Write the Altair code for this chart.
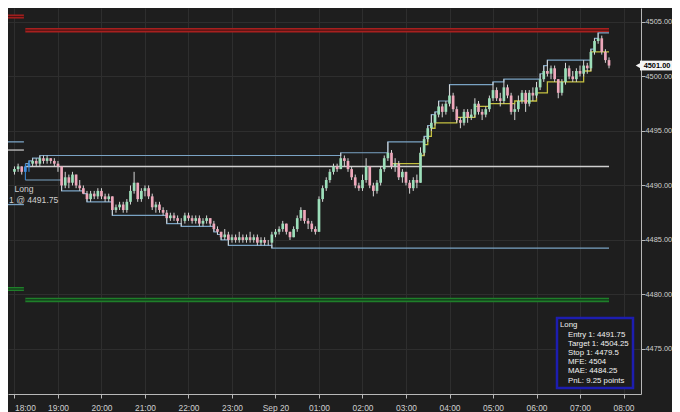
import altair as alt
import pandas as pd

# ---------------- data (5-minute bars, 18:00 Sep 19 -> 07:40 Sep 20) ----------------
first_open = 4491.25
c18 = [4491.50, 4491.75, 4491.25, 4491.75, 4492.00, 4492.25, 4492.00, 4492.50, 4492.25, 4492.50, 4492.25, 4492.00]
h18 = [4491.75, 4492.00, 4491.75, 4492.00, 4492.25, 4492.50, 4492.50, 4492.75, 4492.75, 4492.75, 4492.50, 4492.50]
l18 = [4491.00, 4491.25, 4491.00, 4490.50, 4491.25, 4491.75, 4491.75, 4491.75, 4492.00, 4492.00, 4492.00, 4491.75]
c19 = [4491.75, 4490.00, 4490.75, 4490.25, 4491.00, 4490.00, 4489.75, 4489.25, 4488.75, 4489.25, 4489.00, 4489.50]
h19 = [4492.25, 4491.75, 4491.25, 4491.00, 4491.25, 4491.00, 4490.50, 4490.00, 4489.50, 4489.50, 4489.50, 4489.75]
l19 = [4491.25, 4489.50, 4489.75, 4489.75, 4490.00, 4489.75, 4489.50, 4489.25, 4488.50, 4488.50, 4488.75, 4488.75]
c20 = [4489.00, 4488.75, 4489.00, 4487.75, 4488.00, 4488.25, 4487.75, 4488.50, 4489.50, 4490.25, 4488.75, 4489.50]
h20 = [4489.75, 4489.25, 4489.25, 4489.00, 4488.25, 4488.50, 4488.50, 4488.75, 4490.00, 4491.25, 4490.25, 4489.75]
l20 = [4488.75, 4488.50, 4488.50, 4487.25, 4487.50, 4487.75, 4487.50, 4487.50, 4488.25, 4489.25, 4488.50, 4488.50]
c21 = [4489.75, 4489.00, 4488.00, 4488.25, 4487.75, 4487.50, 4487.00, 4487.25, 4487.00, 4486.75, 4486.75, 4487.25]
h21 = [4490.00, 4490.00, 4489.25, 4488.50, 4488.50, 4488.00, 4487.75, 4487.50, 4487.50, 4487.25, 4487.00, 4487.50]
l21 = [4489.00, 4488.75, 4487.75, 4487.50, 4487.50, 4487.25, 4486.50, 4486.75, 4486.75, 4486.50, 4486.25, 4486.50]
c22 = [4487.00, 4486.75, 4487.00, 4486.50, 4486.75, 4487.00, 4486.50, 4486.00, 4485.75, 4485.25, 4485.50, 4485.00]
h22 = [4487.50, 4487.25, 4487.25, 4487.25, 4487.00, 4487.25, 4487.00, 4486.75, 4486.25, 4485.75, 4486.00, 4485.75]
l22 = [4486.75, 4486.50, 4486.50, 4486.25, 4486.25, 4486.50, 4486.25, 4485.75, 4485.50, 4485.00, 4485.00, 4484.50]
c23 = [4485.25, 4485.00, 4485.25, 4485.00, 4485.25, 4485.00, 4485.25, 4484.75, 4485.00, 4484.75, 4484.75, 4485.50]
h23 = [4485.50, 4485.50, 4485.75, 4485.50, 4485.50, 4485.75, 4485.50, 4485.50, 4485.25, 4485.25, 4485.00, 4485.75]
l23 = [4484.75, 4484.75, 4484.75, 4484.75, 4484.75, 4484.75, 4484.75, 4484.50, 4484.50, 4484.50, 4484.50, 4484.25]
c00 = [4485.75, 4486.00, 4486.50, 4485.75, 4485.25, 4486.00, 4487.00, 4487.75, 4486.75, 4486.50, 4486.00, 4485.75]
h00 = [4486.00, 4486.25, 4486.75, 4486.50, 4485.75, 4486.25, 4487.25, 4488.00, 4487.75, 4487.00, 4486.75, 4486.25]
l00 = [4485.25, 4485.50, 4485.75, 4485.50, 4485.00, 4485.25, 4485.75, 4486.75, 4486.50, 4486.00, 4485.75, 4485.50]
c01 = [4488.75, 4489.75, 4490.50, 4491.25, 4491.75, 4491.50, 4492.50, 4492.25, 4491.50, 4490.75, 4490.00, 4489.75]
h01 = [4489.00, 4490.00, 4490.75, 4491.50, 4492.00, 4492.00, 4493.00, 4492.75, 4492.50, 4491.75, 4491.00, 4490.25]
l01 = [4485.75, 4488.50, 4489.50, 4490.25, 4491.00, 4491.25, 4491.50, 4491.75, 4491.25, 4490.50, 4489.75, 4489.50]
c02 = [4490.50, 4491.75, 4490.00, 4489.50, 4490.25, 4491.50, 4492.50, 4493.00, 4491.75, 4492.00, 4490.75, 4491.25]
h02 = [4491.00, 4492.50, 4491.75, 4490.25, 4490.50, 4491.75, 4492.75, 4494.00, 4493.25, 4492.50, 4492.25, 4491.50]
l02 = [4489.50, 4490.25, 4489.75, 4489.00, 4489.25, 4490.00, 4491.25, 4492.25, 4491.50, 4491.25, 4490.50, 4490.25]
c03 = [4490.25, 4489.75, 4490.50, 4490.25, 4493.00, 4494.25, 4495.25, 4495.75, 4496.50, 4497.25, 4496.75, 4497.50]
h03 = [4491.25, 4490.50, 4490.75, 4491.00, 4493.50, 4494.50, 4495.50, 4496.50, 4496.75, 4497.75, 4497.50, 4497.75]
l03 = [4490.00, 4489.25, 4489.50, 4489.75, 4490.25, 4492.75, 4494.00, 4495.00, 4495.50, 4496.25, 4496.25, 4496.50]
c04 = [4498.25, 4497.00, 4496.00, 4495.75, 4496.75, 4496.25, 4496.50, 4497.50, 4496.75, 4496.50, 4497.00, 4498.00]
h04 = [4499.25, 4498.50, 4497.25, 4496.25, 4497.00, 4497.00, 4497.00, 4498.00, 4497.75, 4497.00, 4497.25, 4498.25]
l04 = [4497.25, 4496.75, 4495.75, 4495.25, 4495.50, 4495.75, 4496.00, 4496.25, 4496.50, 4496.00, 4496.25, 4496.75]
c05 = [4498.75, 4498.00, 4497.75, 4499.00, 4498.25, 4496.75, 4497.00, 4497.75, 4498.50, 4497.50, 4498.50, 4498.25]
h05 = [4499.50, 4499.00, 4498.50, 4499.75, 4499.25, 4498.50, 4497.50, 4498.25, 4498.75, 4498.75, 4498.75, 4499.00]
l05 = [4497.75, 4497.75, 4497.25, 4497.50, 4498.00, 4496.50, 4496.00, 4496.75, 4497.50, 4496.75, 4497.25, 4497.75]
c06 = [4499.00, 4499.75, 4500.50, 4500.25, 4500.75, 4499.75, 4498.50, 4499.50, 4500.75, 4500.00, 4499.75, 4500.50]
h06 = [4499.50, 4500.25, 4501.00, 4501.50, 4501.00, 4501.00, 4499.75, 4499.75, 4501.25, 4501.00, 4500.50, 4500.75]
l06 = [4498.00, 4498.75, 4499.50, 4500.00, 4499.75, 4499.50, 4498.00, 4498.25, 4499.25, 4499.75, 4499.50, 4499.50]
c07 = [4500.25, 4501.00, 4500.75, 4502.25, 4503.25, 4503.50, 4502.25, 4501.50, 4501.00]
h07 = [4501.00, 4501.50, 4501.25, 4502.50, 4503.50, 4504.00, 4503.75, 4502.50, 4501.75]
l07 = [4500.00, 4500.00, 4500.25, 4500.50, 4502.00, 4503.00, 4502.00, 4501.25, 4500.75]

# trailing (yellow) step line
yellow_t = ["2021-09-20T02:40:00", "2021-09-20T03:20:00", "2021-09-20T03:25:00", "2021-09-20T03:30:00",
            "2021-09-20T03:35:00", "2021-09-20T03:40:00", "2021-09-20T04:10:00", "2021-09-20T04:35:00",
            "2021-09-20T04:55:00", "2021-09-20T05:30:00", "2021-09-20T06:00:00", "2021-09-20T06:15:00",
            "2021-09-20T07:05:00", "2021-09-20T07:15:00", "2021-09-20T07:40:00"]
yellow_v = [4492.00, 4492.75, 4493.75, 4494.50, 4495.25, 4495.75, 4496.25, 4497.25,
            4497.50, 4497.75, 4498.50, 4499.50, 4500.50, 4502.25, 4502.25]

# trade levels
entry_price = 4491.75
target_price = 4504.25
stop_price = 4479.5
trade_start = "2021-09-19T18:15:00"
trade_end = "2021-09-20T07:40:00"
entry_bars = ["2021-09-19T18:15:00", "2021-09-19T18:20:00"]

# previous trade short lines (target, mfe, entry, mae, stop)
prev_levels = [4505.5, 4494.0, 4493.25, 4488.25, 4480.5]
prev_kinds = ["target", "mfe", "entry", "mae", "stop"]
prev_start = "2021-09-19T17:50:00"
prev_end = "2021-09-19T18:13:00"

info_lines = ["Entry 1: 4491.75", "Target 1: 4504.25", "Stop 1: 4479.5",
              "MFE: 4504", "MAE: 4484.25", "PnL: 9.25 points"]

y_ticks = [4475, 4480, 4485, 4490, 4495, 4500, 4505]
x_tick_hours = [(19, 18), (19, 19), (19, 20), (19, 21), (19, 22), (19, 23), (20, 0), (20, 1),
                (20, 2), (20, 3), (20, 4), (20, 5), (20, 6), (20, 7), (20, 8)]

# ---------------- build tables ----------------
closes = c18 + c19 + c20 + c21 + c22 + c23 + c00 + c01 + c02 + c03 + c04 + c05 + c06 + c07
highs = h18 + h19 + h20 + h21 + h22 + h23 + h00 + h01 + h02 + h03 + h04 + h05 + h06 + h07
lows = l18 + l19 + l20 + l21 + l22 + l23 + l00 + l01 + l02 + l03 + l04 + l05 + l06 + l07
opens = [first_open] + closes[:-1]
times = pd.date_range("2021-09-19 18:00", periods=len(closes), freq="5min").strftime("%Y-%m-%dT%H:%M:%S")
bars = pd.DataFrame({"t": list(times), "open": opens, "high": highs, "low": lows, "close": closes})
bars["kind"] = [
    "entry" if t in entry_bars else ("up" if c >= o else "down")
    for t, o, c in zip(bars["t"], bars["open"], bars["close"])
]
normal_bars = bars[bars.kind != "entry"]
entry_df = bars[bars.kind == "entry"]

ei = list(bars["t"]).index(trade_start)
trail = bars.iloc[ei:].copy()
trail["mfe"] = trail["high"].cummax()
trail["mae"] = trail["low"].cummin()

yellow = pd.DataFrame({"t": yellow_t, "v": yellow_v})
trade_lines = pd.DataFrame({"x1": [trade_start] * 3, "x2": [trade_end] * 3,
                            "y": [target_price, stop_price, entry_price],
                            "kind": ["target", "stop", "entry"]})
prev_lines = pd.DataFrame({"x1": [prev_start] * len(prev_levels), "x2": [prev_end] * len(prev_levels),
                           "y": prev_levels, "kind": prev_kinds})
last = closes[-1]
tag = pd.DataFrame({"p": [last], "hi": [last + 0.45], "lo": [last - 0.45], "s": [f"{last:.2f}"]})

# ---------------- scales / axes ----------------
BG = "#1e1e1e"
FONT = "Liberation Sans"
x_scale = alt.Scale(domain=[alt.DateTime(year=2021, month=9, date=19, hours=17, minutes=57, seconds=58),
                            alt.DateTime(year=2021, month=9, date=20, hours=8, minutes=17, seconds=13)])
y_scale = alt.Scale(domain=[4470.87, 4506.28], nice=False, zero=False)
x_axis = alt.Axis(title=None,
                  values=[alt.DateTime(year=2021, month=9, date=d, hours=h) for d, h in x_tick_hours],
                  labelExpr="hours(datum.value) == 0 ? 'Sep 20' : timeFormat(datum.value, '%H:%M')",
                  labelAlign={"condition": {"test": "hours(datum.value) == 18", "value": "left"},
                              "value": "center"},
                  grid=True, gridColor="#2e2e2e", domainColor="#b8b8b8", tickColor="#b8b8b8",
                  tickSize=4, labelColor="#cfcfcf", labelFont=FONT, labelFontSize=8.4,
                  labelPadding=5, labelFlush=False, labelOverlap=False)
y_axis = alt.Axis(title=None, orient="right", values=y_ticks, format=".2f",
                  grid=True, gridColor="#2e2e2e", domainColor="#b8b8b8", tickColor="#b8b8b8",
                  tickSize=4, labelColor="#cfcfcf", labelFont=FONT, labelFontSize=7.4,
                  labelPadding=0, labelFlush=False, labelOverlap=False)


def X(f):
    return alt.X(f, type="temporal", scale=x_scale, axis=x_axis)


def Y(f):
    return alt.Y(f, type="quantitative", scale=y_scale, axis=y_axis)


def hline(df, color, width):
    return alt.Chart(df).mark_rule(color=color, strokeWidth=width, clip=True).encode(
        x=X("x1"), x2="x2:T", y=Y("y"))


layers = []

# previous trade short lines
prev_colors = {"target": "#a8201f", "mfe": "#7aa3c4", "entry": "#c4c4c4", "mae": "#7aa3c4", "stop": "#1f7f2a"}
inner = {"target": "#4a1212", "stop": "#123018"}
for k, col in prev_colors.items():
    sub = prev_lines[prev_lines.kind == k]
    if k in inner:
        layers.append(hline(sub, col, 4))
        layers.append(hline(sub, inner[k], 1.2))
    else:
        layers.append(hline(sub, col, 1.3))

# current trade lines
tl = trade_lines
layers.append(hline(tl[tl.kind == "target"], "#a8201f", 4.5))
layers.append(hline(tl[tl.kind == "target"], "#4a1212", 1.3))
layers.append(hline(tl[tl.kind == "stop"], "#1f7f2a", 4.5))
layers.append(hline(tl[tl.kind == "stop"], "#123018", 1.3))
layers.append(hline(tl[tl.kind == "entry"], "#cfcfcf", 1.5))

# MFE / MAE steps
layers.append(alt.Chart(trail).mark_line(color="#7aa3c4", strokeWidth=1.2, interpolate="step-after")
              .encode(x=X("t"), y=Y("mfe")))
layers.append(alt.Chart(trail).mark_line(color="#7aa3c4", strokeWidth=1.2, interpolate="step-after")
              .encode(x=X("t"), y=Y("mae")))

# yellow trailing line
layers.append(alt.Chart(yellow).mark_line(color="#c4c040", strokeWidth=1.3, interpolate="step-after")
              .encode(x=X("t"), y=Y("v")))

# candles
layers.append(alt.Chart(normal_bars).mark_rule(strokeWidth=1, color="#d6d6d6", clip=True).encode(
    x=X("t"), y=Y("low"), y2="high:Q"))
layers.append(alt.Chart(normal_bars).mark_bar(width=2.7, clip=True).encode(
    x=X("t"), y=Y("open"), y2="close:Q",
    color=alt.Color("kind:N", legend=None,
                    scale=alt.Scale(domain=["up", "down"], range=["#9ddfba", "#eea8bb"]))))
layers.append(alt.Chart(entry_df).mark_rule(strokeWidth=1, color="#3c8fe0", clip=True).encode(
    x=X("t"), y=Y("low"), y2="high:Q"))
layers.append(alt.Chart(entry_df).mark_bar(width=2.7, color="#3c8fe0", clip=True).encode(
    x=X("t"), y=Y("open"), y2="close:Q"))


def label(txt, px, py, align="left", color="#f2f2f2", size=7.8, weight="normal"):
    return alt.Chart(pd.DataFrame({"s": [txt]})).mark_text(
        align=align, baseline="middle", color=color, fontSize=size, font=FONT, fontWeight=weight
    ).encode(x=alt.value(px), y=alt.value(py), text="s:N")


# entry annotation
layers.append(label("Long", 16, 181, align="center", color="#cfcfcf", size=8.6))
layers.append(label("1 @ " + f"{entry_price:.2f}", 1, 192, align="left", color="#cfcfcf", size=8.6))

# info box
layers.append(alt.Chart(pd.DataFrame({"a": [0]})).mark_rect(fill="#1c1c1c", stroke="#1d1db0", strokeWidth=2.5)
              .encode(x=alt.value(549), x2=alt.value(625), y=alt.value(310), y2=alt.value(380)))
layers.append(label("Long", 552, 317))
for txt, py in zip(info_lines, [327, 335.5, 344.5, 353.7, 363, 372.7]):
    layers.append(label(txt, 560, py))

# current price tag
layers.append(alt.Chart(tag).mark_rect(fill="#f4f4f4")
              .encode(x=alt.value(632), x2=alt.value(664), y=Y("hi"), y2="lo:Q"))
layers.append(alt.Chart(tag).mark_point(shape="triangle-left", filled=True, size=28,
                                        color="#f4f4f4", opacity=1)
              .encode(x=alt.value(630), y=Y("p")))
layers.append(alt.Chart(tag).mark_text(
    align="center", baseline="middle", color="#000000", fontSize=7.4, font=FONT, fontWeight="bold")
    .encode(x=alt.value(649), y=Y("p"), text="s:N"))

chart = alt.layer(*layers).properties(
    width=633, height=386,
    autosize=alt.AutoSizeParams(type="none"),
    padding={"left": 0, "top": 0, "right": 31, "bottom": 18},
    background=BG,
).configure_view(stroke=None)

chart.save("out.html", embed_options={"renderer": "svg", "actions": False})
